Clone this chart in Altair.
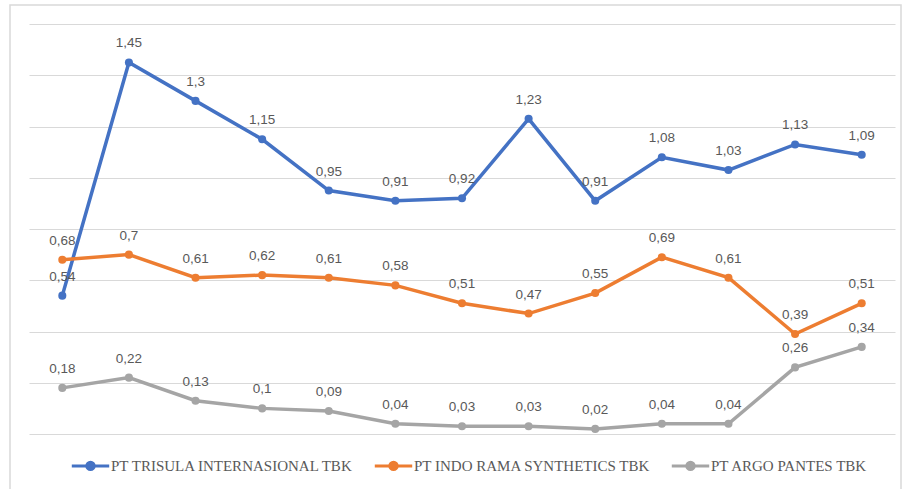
import altair as alt
import pandas as pd

# Period index (13 observations) and the three company series
periods = list(range(1, 14))
series_names = [
    "PT TRISULA INTERNASIONAL TBK",
    "PT INDO RAMA SYNTHETICS TBK",
    "PT ARGO PANTES TBK",
]
trisula = [0.54, 1.45, 1.3, 1.15, 0.95, 0.91, 0.92, 1.23, 0.91, 1.08, 1.03, 1.13, 1.09]
indorama = [0.68, 0.7, 0.61, 0.62, 0.61, 0.58, 0.51, 0.47, 0.55, 0.69, 0.61, 0.39, 0.51]
argo = [0.18, 0.22, 0.13, 0.1, 0.09, 0.04, 0.03, 0.03, 0.02, 0.04, 0.04, 0.26, 0.34]
colors = ["#4472C4", "#ED7D31", "#A5A5A5"]

rows = []
for name, vals in zip(series_names, [trisula, indorama, argo]):
    for p, v in zip(periods, vals):
        rows.append({"period": p, "value": v, "series": name,
                     "label": f"{v:g}".replace(".", ",")})
df = pd.DataFrame(rows)

W, H = 866, 410

x = alt.X("period:O", axis=None, scale=alt.Scale(padding=0.5))
y = alt.Y("value:Q", scale=alt.Scale(domain=[0, 1.6], nice=False),
          axis=alt.Axis(values=[0, 0.2, 0.4, 0.6, 0.8, 1.0, 1.2, 1.4, 1.6],
                        labels=False, ticks=False, domain=False, title=None,
                        grid=True, gridColor="#d9d9d9", gridWidth=1))
color_scale = alt.Scale(domain=series_names, range=colors)

# Legend symbol: short line with a dot in the middle
legend_symbol = ("M-1,0H1M0.2,0A0.2,0.2,0,1,1,-0.2,0"
                 "A0.2,0.2,0,1,1,0.2,0Z")

base = alt.Chart(df)

lines = base.mark_line(strokeWidth=3.5).encode(
    x=x, y=y,
    color=alt.Color("series:N", scale=color_scale, sort=series_names,
                    legend=alt.Legend(
                        title=None, orient="none", direction="horizontal",
                        legendX=41, legendY=421,
                        symbolType=legend_symbol, symbolSize=1400,
                        symbolStrokeWidth=3,
                        labelFontSize=15,
                        labelColor="#595959", labelOffset=0, labelLimit=0,
                        columnPadding=14)),
    detail="series:N",
)

points = base.mark_point(filled=True, size=65, opacity=1).encode(
    x=x, y=y,
    color=alt.Color("series:N", scale=color_scale, legend=None),
)

labels = base.mark_text(dy=-19, font="Liberation Sans", fontSize=13.5,
                        color="#595959").encode(
    x=x, y=y, text="label:N",
)

frame = alt.Chart(pd.DataFrame({"k": [0]})).mark_rect(
    fillOpacity=0, stroke="#d9d9d9", strokeWidth=1.5
).encode(x=alt.value(-19), x2=alt.value(W + 6),
         y=alt.value(-19), y2=alt.value(H + 62))

chart = alt.layer(frame, lines, points, labels).properties(
    width=W, height=H,
    autosize=alt.AutoSizeParams(type="none"),
    padding={"left": 29, "top": 24, "right": 8, "bottom": 55},
    background="white",
).configure(font="Liberation Serif").configure_view(stroke=None)

chart.save("out.html", embed_options={"renderer": "svg", "actions": False})
